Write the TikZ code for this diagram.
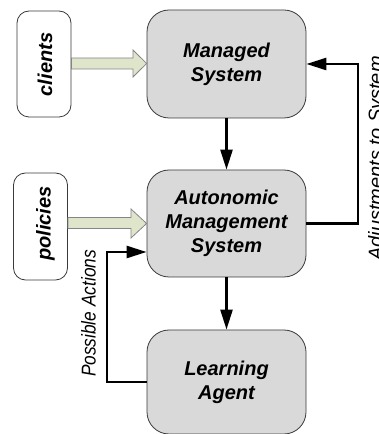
\documentclass[tikz,border=0pt]{standalone}
\usepackage{fontspec}
\setmainfont{Liberation Sans}
\usetikzlibrary{arrows.meta}
\definecolor{boxfill}{HTML}{D9D9D9}
\definecolor{boxline}{HTML}{3A3A3A}
\definecolor{blockfill}{HTML}{DFE5CB}
\definecolor{blockline}{HTML}{858585}
\tikzset{
  sysbox/.style={draw=boxline, line width=0.8pt, fill=boxfill, rounded corners=22pt,
    minimum width=159pt, align=center, inner sep=0pt,
    font=\fontsize{20}{24}\selectfont\bfseries\itshape},
  srcbox/.style={draw=boxline, line width=0.8pt, fill=white, rounded corners=12pt,
    minimum width=54pt, minimum height=107pt, inner sep=0pt},
  srclabel/.style={rotate=90, anchor=base, inner sep=0pt,
    font=\fontsize{20}{24}\selectfont\bfseries\itshape},
  sidelabel/.style={rotate=90, anchor=base, inner sep=0pt,
    font=\fontsize{20}{24}\selectfont\itshape},
  conn/.style={line width=2.5pt, -{Triangle[length=20pt, width=12pt]}},
  blockarrow/.style={draw=blockline, line width=0.8pt, fill=blockfill, line join=miter}
}
\begin{document}
\begin{tikzpicture}[x=1pt, y=1pt]
\useasboundingbox (0,0) rectangle (378,434);
\clip (0,0) rectangle (378,434);

% main system boxes
\node[sysbox, minimum height=108pt] (managed) at (226.5,370) {Managed\\System};
\node[sysbox, minimum height=107pt] (auto) at (226.5,210.5) {Autonomic\\Management\\System};
\node[sysbox, minimum height=104pt] (learn) at (226.5,52) {Learning\\Agent};

% input boxes
\node[srcbox, minimum height=106pt] (clients) at (44,370) {};
\node[srclabel] (clientstxt) at (52,369.5) {clients};
\node[srcbox] (policies) at (40.5,207.5) {};
\node[srclabel] (policiestxt) at (50.5,210.5) {policies};

% hollow block arrows feeding the system
\draw[blockarrow] (clients.east |- 0,376) -- (133,376) -- (133,384) -- (managed.west |- 0,370.5)
  -- (133,357) -- (133,365) -- (clients.east |- 0,365) -- cycle;
\draw[blockarrow] (policies.east |- 0,216.5) -- (131,216.5) -- (131,225) -- (auto.west |- 0,210.5)
  -- (131,196) -- (131,205.5) -- (policies.east |- 0,205.5) -- cycle;

% control flow
\draw[conn] (managed) -- (auto);
\draw[conn] (auto) -- (learn);

\coordinate (adj) at (358,0);
\draw[conn] (auto.east) -- (auto.east -| adj) |- (managed.east);
\node[sidelabel] (adjtxt) at (382.5,275.5) {Adjustments to System};

\coordinate (pa) at (107,182);
\draw[conn] (learn.west) -| (pa) -- (pa -| auto.west);
\node[sidelabel] (patxt) at (95.5,120.5) {\scalebox{0.865}[1]{Possible Actions}};
\end{tikzpicture}
\end{document}
